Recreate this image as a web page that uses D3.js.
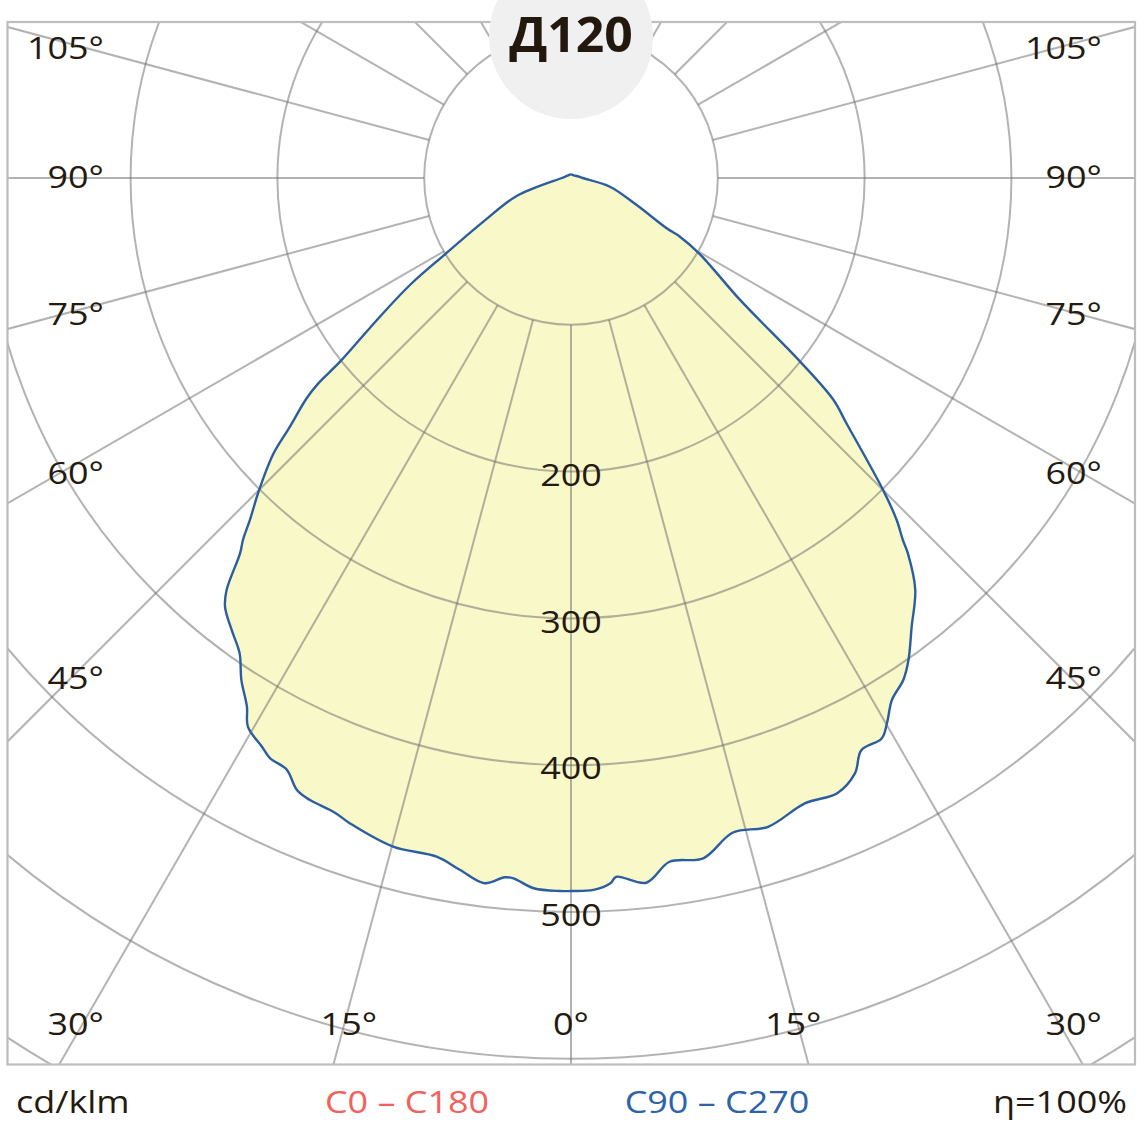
<!DOCTYPE html>
<html>
<head>
<meta charset="utf-8">
<script src="https://cdn.jsdelivr.net/npm/d3@7"></script>
<style>
  html, body { margin: 0; padding: 0; background: #ffffff; }
  svg { display: block; }
</style>
</head>
<body>
<script>
// ---------------- data ----------------
const title = "Д120";
// C90 half (drawn on the right), gamma in degrees from nadir, cd/klm
const gammaC90 = [0, 1.8, 3.2, 3.7, 6.1, 8.2, 11.0, 13.9, 16.9, 20.5, 23.4, 25.5, 26.9, 29.0, 30.1, 31.6, 33.5, 35.0, 37.2, 39.9, 41.9, 42.5, 43.6, 45.0, 48.3, 49.8, 51.3, 54.2, 59.4, 61.7, 62.3, 67.6, 77.4, 90, 105, 135, 180];
const valuesC90 = [485.7, 485.2, 481.2, 477.0, 482.8, 470.6, 472.1, 459.3, 461.9, 454.8, 456.6, 449.3, 437.1, 436.5, 429.2, 417.3, 410.1, 400.8, 383.8, 365.6, 343.7, 334.7, 321.7, 300.7, 251.4, 234.0, 200.0, 142.0, 102.1, 84.3, 73.6, 48.4, 27.2, 8.0, 4.6, 2.6, 2.5];
// C270 half (drawn on the left)
const gammaC270 = [0, 0.9, 3.0, 4.7, 5.4, 7.0, 9.1, 11.2, 14.9, 18.9, 20.4, 22.8, 24.1, 25.7, 27.4, 28.5, 30.5, 31.5, 33.3, 34.9, 36.9, 38.9, 39.9, 41.4, 42.2, 43.2, 45.0, 47.2, 48.5, 50.2, 50.9, 51.5, 53.8, 56.4, 58.8, 63.5, 71.7, 90, 105, 135, 180];
const valuesC270 = [485.7, 485.8, 484.5, 478.7, 478.5, 484.0, 477.4, 471.3, 471.3, 464.7, 461.3, 459.5, 456.9, 447.0, 445.3, 441.0, 433.7, 422.5, 409.0, 394.6, 385.0, 375.3, 365.7, 340.9, 332.6, 319.5, 300.4, 276.2, 255.6, 234.4, 221.8, 201.0, 164.0, 131.7, 100.3, 66.7, 39.0, 6.3, 3.9, 2.6, 2.5];

const gridCircles = [100, 200, 300, 400, 500, 600, 700];
const radialTickLabels = [200, 300, 400, 500];
const spokeAngles = d3.range(0, 360, 15);
const sideAngleLabels = [105, 90, 75, 60, 45];
const sideLabelNudge = [2, -1, 3, 9, 5];
const cornerAngleLabel = 30;
const bottomAngleLabels = [15, 0];
const unitLabel = "cd/klm";
const legendC0 = "C0 – C180";
const legendC90 = "C90 – C270";
const efficiencyLabel = "η=100%";

// ---------------- layout ----------------
const W = 1143, H = 1143;
const CX = 571, CY = 178;
const box = { x0: 7.5, y0: 22, x1: 1135, y1: 1064.5 };
const FONT = "'Open Sans', 'DejaVu Sans', sans-serif";
const TXT = "#241a10";
const GRID = "rgba(110,110,110,0.52)";
const SX = 1.16; // horizontal widening to mimic the wide geometric face

const r = d3.scaleLinear().domain([0, 100]).range([0, 146.8]);

const svg = d3.select("body").append("svg").attr("width", W).attr("height", H);
svg.append("rect").attr("width", W).attr("height", H).attr("fill", "#fff");

svg.append("defs").append("clipPath").attr("id", "clipBox")
  .append("rect").attr("x", box.x0).attr("y", box.y0)
  .attr("width", box.x1 - box.x0).attr("height", box.y1 - box.y0);

const clipped = svg.append("g").attr("clip-path", "url(#clipBox)")
  .append("g").attr("transform", `translate(${CX},${CY})`);

// ---------------- curve fill ----------------
const rad = d => d * Math.PI / 180;
const pts = [];
for (let i = gammaC270.length - 1; i >= 0; i--) pts.push([Math.PI + rad(gammaC270[i]), valuesC270[i]]);
for (let i = 1; i < gammaC90.length - 1; i++) pts.push([Math.PI - rad(gammaC90[i]), valuesC90[i]]);

const radial = d3.lineRadial()
  .angle(d => d[0])
  .radius(d => r(d[1]))
  .curve(d3.curveCatmullRomClosed.alpha(0.5));

clipped.append("path").attr("d", radial(pts)).attr("fill", "#f8f8c9").attr("stroke", "none");

// ---------------- grid ----------------
clipped.selectAll("circle.grid").data(gridCircles).join("circle")
  .attr("class", "grid").attr("r", d => r(d))
  .attr("fill", "none").attr("stroke", GRID).attr("stroke-width", 2);

clipped.selectAll("line.spoke").data(spokeAngles).join("line")
  .attr("class", "spoke")
  .attr("x1", d => r(100) * Math.sin(rad(d)))
  .attr("y1", d => r(100) * Math.cos(rad(d)))
  .attr("x2", d => r(900) * Math.sin(rad(d)))
  .attr("y2", d => r(900) * Math.cos(rad(d)))
  .attr("stroke", GRID).attr("stroke-width", 2);

// ---------------- curve outline ----------------
clipped.append("path").attr("d", radial(pts))
  .attr("fill", "none").attr("stroke", "#2b5d9f").attr("stroke-width", 2.4)
  .attr("stroke-linejoin", "round");

// ---------------- frame ----------------
svg.append("rect").attr("x", box.x0).attr("y", box.y0)
  .attr("width", box.x1 - box.x0).attr("height", box.y1 - box.y0)
  .attr("fill", "none").attr("stroke", "#bdbdbd").attr("stroke-width", 2.2);

// ---------------- title ----------------
svg.append("circle").attr("cx", CX).attr("cy", 37).attr("r", 82).attr("fill", "#f0f0f0");
svg.append("text").attr("transform", `translate(${CX},52) scale(1.04,1)`)
  .attr("text-anchor", "middle").attr("font-family", FONT).attr("font-weight", 700)
  .attr("font-size", 48).attr("fill", "#22180e").text(title);

// ---------------- text helper ----------------
function label(x, y, txt, anchor, color, size) {
  svg.append("text")
    .attr("transform", `translate(${x},${y}) scale(${SX},1)`)
    .attr("text-anchor", anchor).attr("dy", "0.36em")
    .attr("font-family", FONT).attr("font-size", size || 31)
    .attr("fill", color || TXT).text(txt);
}

// radial value labels
radialTickLabels.forEach(v => label(CX, CY + r(v) + 3, String(v), "middle"));

// side angle labels (left and right columns)
sideAngleLabels.forEach((a, i) => {
  const y = CY + 495 * Math.cos(rad(a)) / Math.sin(rad(a)) + sideLabelNudge[i];
  label(104, y, a + "°", "end");
  label(1102, y, a + "°", "end");
});

// bottom row labels
const yb = 1024;
label(104, yb, cornerAngleLabel + "°", "end");
label(1102, yb, cornerAngleLabel + "°", "end");
bottomAngleLabels.forEach(a => {
  const dx = (yb - CY) * Math.tan(rad(a)) * 0.98;
  label(CX - dx, yb, a + "°", "middle");
  if (a !== 0) label(CX + dx, yb, a + "°", "middle");
});

// ---------------- legend ----------------
label(16, 1102, unitLabel, "start");
label(407, 1102, legendC0, "middle", "#f2615c");
label(717, 1102, legendC90, "middle", "#2e63aa");
label(1127, 1102, efficiencyLabel, "end");
</script>
</body>
</html>
